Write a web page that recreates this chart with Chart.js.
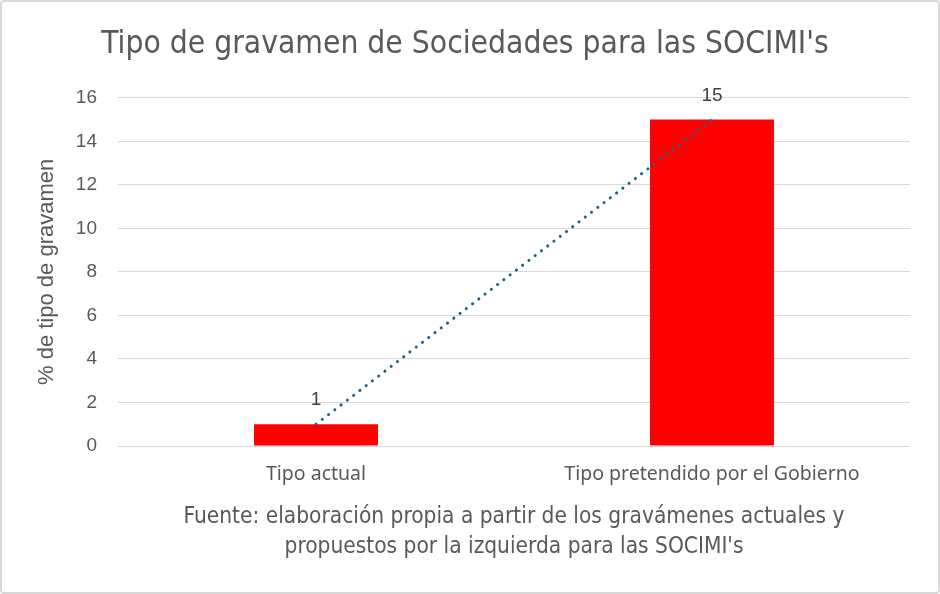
<!DOCTYPE html>
<html><head><meta charset="utf-8">
<script src="https://cdn.jsdelivr.net/npm/chart.js@4/dist/chart.umd.min.js"></script>
<style>html,body{margin:0;padding:0;background:#fff}#wrap{width:940px;height:594px;position:relative}</style>
</head><body><div id="wrap"><canvas id="c" width="940" height="594"></canvas></div>
<script>
const categories = ["Tipo actual", "Tipo pretendido por el Gobierno"];
const values = [1, 15];
const trendValues = [1, 15];
const yTicks = [0, 2, 4, 6, 8, 10, 12, 14, 16];
const titleText = "Tipo de gravamen de Sociedades para las SOCIMI's";
const yTitle = "% de tipo de gravamen";
const xTitle = ["Fuente: elaboración propia a partir de los gravámenes actuales y", "propuestos por la izquierda para las SOCIMI's"];

const GRAY = '#595959';
const NARROW = "'Liberation Sans Narrow', 'DejaVu Sans Condensed', 'Roboto', sans-serif";

const frame = {
  id: 'frame',
  beforeDraw(chart) {
    const ctx = chart.ctx;
    ctx.save();
    ctx.fillStyle = '#fff';
    ctx.fillRect(0, 0, chart.width, chart.height);
    ctx.strokeStyle = '#d9d9d9';
    ctx.lineWidth = 2;
    ctx.beginPath();
    ctx.roundRect(1, 1, chart.width - 2, chart.height - 2, 3);
    ctx.stroke();
    ctx.restore();
  }
};
const labels = {
  id: 'labels',
  afterDatasetsDraw(chart) {
    const ctx = chart.ctx;
    const meta = chart.getDatasetMeta(1);
    ctx.save();
    ctx.fillStyle = '#404040';
    ctx.font = "19px 'Liberation Sans', Arial, sans-serif";
    ctx.textAlign = 'center';
    ctx.textBaseline = 'middle';
    meta.data.forEach((bar, i) => {
      ctx.fillText(String(values[i]), bar.x, bar.y - 24);
    });
    ctx.restore();
  }
};

new Chart(document.getElementById('c'), {
  data: {
    labels: categories,
    datasets: [
      { type: 'line', data: trendValues, borderColor: '#1F6186', borderWidth: 3,
        borderDash: [0.1, 7.8], borderCapStyle: 'round', pointRadius: 0, fill: false, order: 0 },
      { type: 'bar', data: values, backgroundColor: '#FF0000', borderWidth: 0,
        categoryPercentage: 1, barPercentage: 0.313, order: 1 }
    ]
  },
  options: {
    responsive: false,
    animation: false,
    layout: { padding: { left: 20, right: 30, top: 0, bottom: 32 } },
    plugins: {
      legend: { display: false },
      tooltip: { enabled: false },
      title: { display: true, text: titleText, color: GRAY,
        font: { family: NARROW, size: 31.5, weight: 'normal' }, padding: { top: 26, bottom: 34 } }
    },
    scales: {
      x: {
        grid: { display: false, drawTicks: false },
        border: { display: false },
        ticks: { color: GRAY, font: { family: "'Noto Sans', sans-serif", size: 19.5 }, padding: 17 },
        title: { display: true, text: xTitle, color: GRAY,
          font: { family: NARROW, size: 22.5, lineHeight: 1.33 }, padding: { top: 0, bottom: 0 } },
        afterFit(s) { s.height = 116; }
      },
      y: {
        min: 0, max: 16,
        afterBuildTicks(s) { s.ticks = yTicks.map(v => ({ value: v })); },
        grid: { color: '#d9d9d9', lineWidth: 1, drawTicks: false },
        border: { display: false },
        ticks: { color: GRAY, font: { family: "'Liberation Sans', Arial, sans-serif", size: 19 }, padding: 21 },
        title: { display: true, text: yTitle, color: GRAY,
          font: { family: "'Liberation Sans', Arial, sans-serif", size: 22, lineHeight: 1.2 }, padding: { top: 14 } },
        afterFit(s) { s.width = 98; }
      }
    }
  },
  plugins: [frame, labels]
});
</script></body></html>
